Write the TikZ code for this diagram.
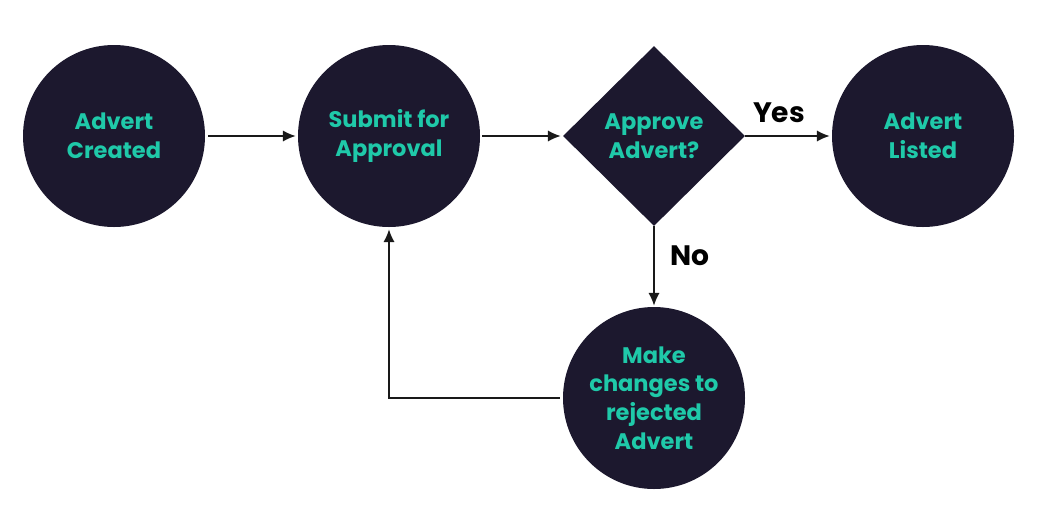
\documentclass[tikz,border=0pt]{standalone}
\usepackage{fontspec}
\setmainfont{Poppins}
\usepackage{xcolor}
\usepackage{tikz}
\usetikzlibrary{arrows.meta}
\usetikzlibrary{shapes.geometric}
\definecolor{stagefill}{HTML}{1C182E}
\definecolor{stagetext}{HTML}{1FC9A9}
\tikzset{
  stage/.style={circle, fill=stagefill, draw=none, minimum size=182*0.025cm, inner sep=0pt,
    text=stagetext, align=center, font=\fontsize{16}{20.5}\selectfont\bfseries},
  decision/.style={diamond, fill=stagefill, draw=none, minimum width=182*0.025cm, minimum height=180*0.025cm,
    inner sep=0pt, text=stagetext, align=center, font=\fontsize{16}{20.5}\selectfont\bfseries},
  flowarrow/.style={line width=1pt, draw=black!90, arrows = {-Latex[length=3.2mm, width=2.8mm]}},
  choice/.style={text=black, inner sep=0pt, font=\fontsize{20}{22}\selectfont\bfseries},
}

\begin{document}
\begin{tikzpicture}[x=0.025cm, y=-0.025cm]
\useasboundingbox (0,0) rectangle (1044,515);
\node [stage] (created) at (114,136) {Advert\\Created};
\node [stage] (submit) at (389,136) {Submit for\\Approval};
\node [decision] (decide) at (654,136) {Approve\\Advert?};
\node [stage] (listed) at (923,136) {Advert\\Listed};
\node [stage] (changes) at (654,398) {Make\\changes to\\rejected\\Advert};
\draw [flowarrow, shorten <=3*0.025cm, shorten >=2*0.025cm] (created.east) -- (submit.west);
\draw [flowarrow, shorten <=2*0.025cm, shorten >=2*0.025cm] (submit.east) -- (decide.west);
\draw [flowarrow, shorten >=2*0.025cm] (decide.east) -- (listed.west) node [choice, pos=0.39, yshift=23.5*0.025cm] (yes) {Yes};
\draw [flowarrow, shorten >=1*0.025cm] (decide.south) -- (changes.north) node [choice, pos=0.37, xshift=36*0.025cm] (no) {No};
\draw [flowarrow, shorten <=3*0.025cm, shorten >=2*0.025cm] (changes.west) -| (submit.south);
\end{tikzpicture}
\end{document}
